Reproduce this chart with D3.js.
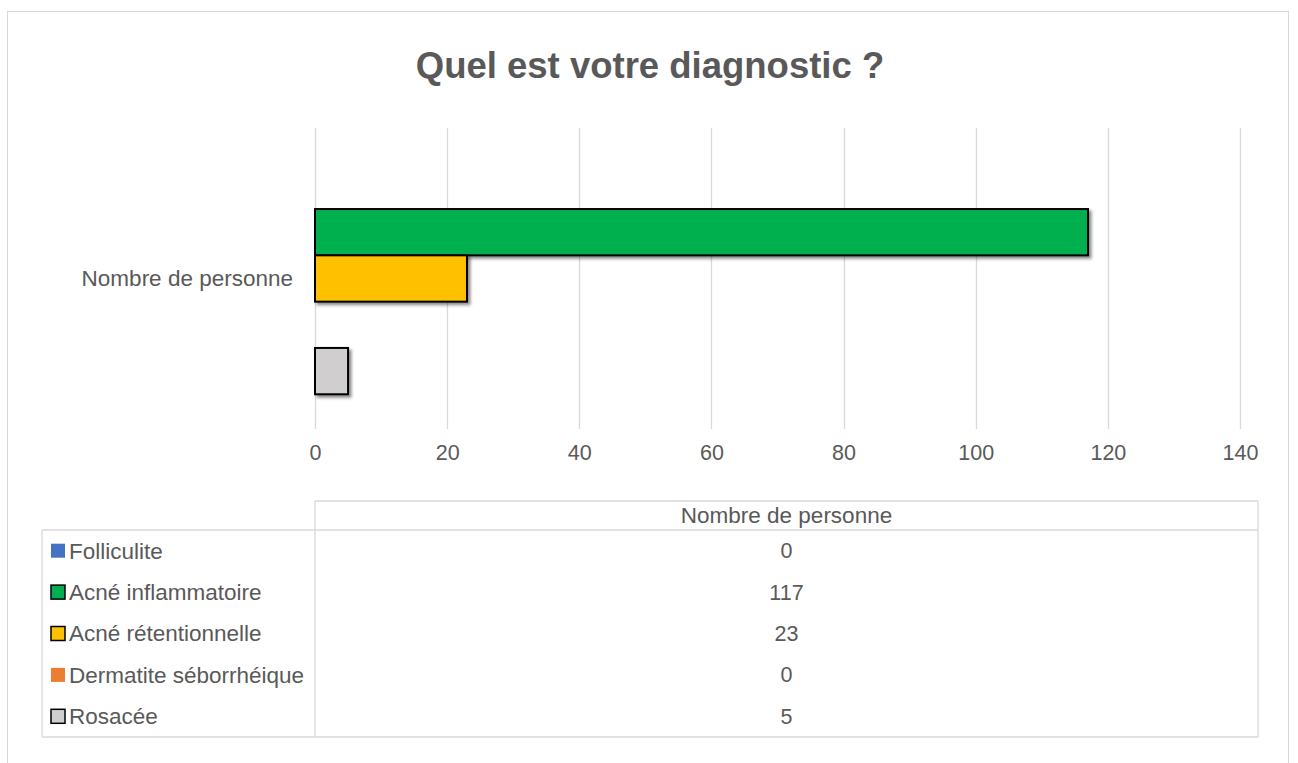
<!DOCTYPE html>
<meta charset="utf-8">
<style>
  body { margin: 0; background: #fff; }
  svg text { font-family: "Liberation Sans", Arial, sans-serif; fill: #595959; }
</style>
<body>
<svg width="1298" height="763"></svg>

<script src="https://cdn.jsdelivr.net/npm/d3@7/dist/d3.min.js"></script>
<script>

// Data
var categories = ["Nombre de personne"];
var seriesNames = ["Folliculite", "Acné inflammatoire", "Acné rétentionnelle", "Dermatite séborrhéique", "Rosacée"];
var seriesValues = [0, 117, 23, 0, 5];
var seriesColors = ["#4472C4", "#00B050", "#FFC000", "#ED7D31", "#D0CECE"];
var xTicks = [0, 20, 40, 60, 80, 100, 120, 140];

var svg = d3.select("svg"),
    plot = {left: 315, right: 1240, top: 128, bottom: 429},
    table = {left: 42, colX: 315, right: 1258, top: 501, headBottom: 530, bottom: 737};

var grid = "#d9d9d9";

// drop shadow for the bars
var defs = svg.append("defs");
var shadow = defs.append("filter")
    .attr("id", "shadow")
    .attr("x", "-20%").attr("y", "-30%")
    .attr("width", "140%").attr("height", "170%");
shadow.append("feDropShadow")
    .attr("dx", 2.5).attr("dy", 2.5)
    .attr("stdDeviation", 1.8)
    .attr("flood-color", "#000")
    .attr("flood-opacity", 0.45);

// chart border
svg.append("rect")
    .attr("x", 7.5).attr("y", 11.5)
    .attr("width", 1281).attr("height", 800)
    .attr("fill", "none")
    .attr("stroke", grid)
    .attr("stroke-width", 1);

// title
svg.append("text")
    .attr("x", 650)
    .attr("y", 78)
    .attr("text-anchor", "middle")
    .style("font-size", "36.5px")
    .style("font-weight", "bold")
    .text("Quel est votre diagnostic ?");

// scales
var x = d3.scaleLinear().domain([0, 140]).range([plot.left, plot.right]);

var y0 = d3.scaleBand()
    .domain(categories)
    .range([plot.top, plot.bottom]);

var y1 = d3.scaleBand()
    .domain(seriesNames)
    .range([0, y0.bandwidth()])
    .paddingInner(0)
    .paddingOuter(0.75);

// gridlines
svg.append("g")
    .selectAll("line")
    .data(xTicks)
    .enter().append("line")
    .attr("x1", function(d) { return Math.round(x(d)) + 0.5; })
    .attr("x2", function(d) { return Math.round(x(d)) + 0.5; })
    .attr("y1", plot.top)
    .attr("y2", plot.bottom)
    .attr("stroke", grid)
    .attr("stroke-width", 1.3);

// x axis labels
var xAxis = d3.axisBottom(x).tickValues(xTicks).tickSize(0).tickPadding(0);
var gx = svg.append("g")
    .attr("transform", "translate(0," + (plot.bottom + 16) + ")")
    .call(xAxis);
gx.select(".domain").remove();
gx.selectAll("text")
    .attr("dy", "0.71em")
    .style("font-size", "21.5px")
    .style("font-family", "Liberation Sans, Arial, sans-serif")
    .attr("fill", "#595959");

// category label
svg.append("g").selectAll("text")
    .data(categories)
    .enter().append("text")
    .attr("x", plot.left - 22)
    .attr("y", function(d) { return y0(d) + y0.bandwidth() / 2; })
    .attr("dy", "0.35em")
    .attr("text-anchor", "end")
    .style("font-size", "22.5px")
    .text(function(d) { return d; });

// bars
var bars = seriesNames.map(function(name, i) {
    return {name: name, value: seriesValues[i], color: seriesColors[i], cat: categories[0]};
});

svg.append("g")
    .selectAll("rect")
    .data(bars.filter(function(d) { return d.value > 0; }))
    .enter().append("rect")
    .attr("x", x(0))
    .attr("y", function(d) { return y0(d.cat) + y1(d.name); })
    .attr("width", function(d) { return x(d.value) - x(0); })
    .attr("height", y1.bandwidth())
    .attr("fill", function(d) { return d.color; })
    .attr("stroke", "#000")
    .attr("stroke-width", 2)
    .attr("filter", "url(#shadow)");

// data table
var rowH = (table.bottom - table.headBottom) / seriesNames.length;
var tg = svg.append("g").attr("stroke", grid).attr("stroke-width", 1.3);
tg.append("line").attr("x1", table.colX).attr("x2", table.right).attr("y1", table.top).attr("y2", table.top);
tg.append("line").attr("x1", table.left).attr("x2", table.right).attr("y1", table.headBottom).attr("y2", table.headBottom);
tg.append("line").attr("x1", table.left).attr("x2", table.right).attr("y1", table.bottom).attr("y2", table.bottom);
tg.append("line").attr("x1", table.left).attr("x2", table.left).attr("y1", table.headBottom).attr("y2", table.bottom);
tg.append("line").attr("x1", table.colX).attr("x2", table.colX).attr("y1", table.top).attr("y2", table.bottom);
tg.append("line").attr("x1", table.right).attr("x2", table.right).attr("y1", table.top).attr("y2", table.bottom);

var colMid = (table.colX + table.right) / 2;

svg.append("text")
    .attr("x", colMid)
    .attr("y", (table.top + table.headBottom) / 2)
    .attr("dy", "0.35em")
    .attr("text-anchor", "middle")
    .style("font-size", "22.5px")
    .text(categories[0]);

var rows = svg.append("g").selectAll("g")
    .data(bars)
    .enter().append("g")
    .attr("transform", function(d, i) { return "translate(0," + (table.headBottom + rowH * i + rowH / 2) + ")"; });

rows.append("rect")
    .attr("x", 51)
    .attr("y", -7)
    .attr("width", 14)
    .attr("height", 14)
    .attr("fill", function(d) { return d.color; })
    .attr("stroke", function(d) { return d.value > 0 ? "#000" : "none"; })
    .attr("stroke-width", 1.5);

rows.append("text")
    .attr("x", 69)
    .attr("dy", "0.35em")
    .style("font-size", "22.5px")
    .text(function(d) { return d.name; });

rows.append("text")
    .attr("x", colMid)
    .attr("dy", "0.35em")
    .attr("text-anchor", "middle")
    .style("font-size", "21.5px")
    .text(function(d) { return d.value; });

</script>
</body>
